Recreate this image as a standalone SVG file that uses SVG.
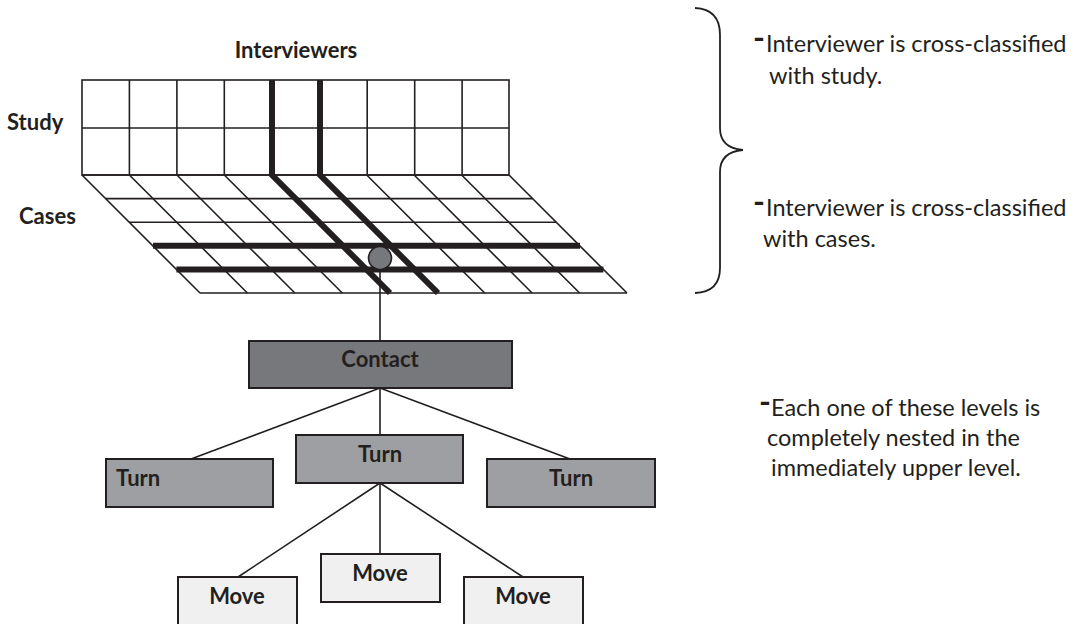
<svg xmlns="http://www.w3.org/2000/svg" width="1076" height="624" viewBox="0 0 1076 624">
<style>
.g{stroke:#231f20;stroke-width:1.6;fill:none}
.tk{stroke:#231f20;stroke-width:6;fill:none;stroke-linejoin:miter}
.c{stroke:#231f20;stroke-width:1.6;fill:none}
.box{stroke:#231f20;stroke-width:2}
.lbl{font-family:Lato,"Liberation Sans",sans-serif;font-weight:bold;font-size:22px;fill:#231f20}
.note{font-family:Lato,"Liberation Sans",sans-serif;font-size:23.5px;fill:#231f20}
.dash{font-weight:bold;font-size:32px}
</style>
<rect width="1076" height="624" fill="#ffffff"/>
<g id="labels">
<text class="lbl" x="296" y="58" text-anchor="middle" font-size="22.5">Interviewers</text>
<text class="lbl" x="7" y="130">Study</text>
<text class="lbl" x="19" y="224">Cases</text>
</g>
<g id="grid">
<rect class="g" x="82" y="80" width="427" height="95"/>
<line class="g" x1="82" y1="128" x2="509" y2="128"/>
<path class="g" d="M129.4,80V175M176.9,80V175M224.3,80V175M319.8,80V175M367.2,80V175M414.7,80V175M462.1,80V175"/>
<path class="g" d="M82,175H509M105.6,198.6H532.6M129.2,222.2H556.2M152.8,245.8H579.8M176.4,269.4H603.4M200,293H627"/>
<path class="g" d="M82,175L200,293M129.4,175L247.4,293M176.9,175L294.9,293M224.3,175L342.3,293M271.8,175L389.8,293M319.2,175L437.2,293M366.7,175L484.7,293M414.1,175L532.1,293M461.6,175L579.6,293M509,175L627,293"/>
<path class="tk" d="M272,80V175L390,293"/>
<path class="tk" d="M320,80V175L438,293"/>
<line class="tk" x1="153" y1="245.8" x2="580" y2="245.8"/>
<line class="tk" x1="176.4" y1="269.4" x2="603.4" y2="269.4"/>
</g>
<g id="connectors">
<line class="c" x1="380" y1="269" x2="380" y2="341"/>
<line class="c" x1="380" y1="388" x2="191" y2="459"/>
<line class="c" x1="380" y1="388" x2="380" y2="435"/>
<line class="c" x1="380" y1="388" x2="570" y2="459"/>
<line class="c" x1="380" y1="483" x2="238" y2="577"/>
<line class="c" x1="380" y1="483" x2="380" y2="554"/>
<line class="c" x1="380" y1="483" x2="523" y2="577"/>
</g>
<g id="case">
<circle cx="380" cy="258" r="11.5" fill="#77787b" stroke="#231f20" stroke-width="1.6"/>
</g>
<g id="contact">
<rect class="box" x="249" y="341" width="263" height="47" fill="#77787b"/>
<text class="lbl" x="380" y="367" text-anchor="middle">Contact</text>
</g>
<g id="turn-left">
<rect class="box" x="106" y="459" width="167" height="48" fill="#9d9fa2"/>
<text class="lbl" x="116" y="486">Turn</text>
</g>
<g id="turn-mid">
<rect class="box" x="296" y="435" width="167" height="48" fill="#9d9fa2"/>
<text class="lbl" x="380" y="462" text-anchor="middle">Turn</text>
</g>
<g id="turn-right">
<rect class="box" x="487" y="459" width="168" height="48" fill="#9d9fa2"/>
<text class="lbl" x="571" y="486" text-anchor="middle">Turn</text>
</g>
<g id="move-left">
<rect class="box" x="178" y="577" width="119" height="60" fill="#f0f0f0"/>
<text class="lbl" x="237" y="604" text-anchor="middle">Move</text>
</g>
<g id="move-mid">
<rect class="box" x="321" y="554" width="119" height="48" fill="#f0f0f0"/>
<text class="lbl" x="380" y="581" text-anchor="middle">Move</text>
</g>
<g id="move-right">
<rect class="box" x="464" y="577" width="119" height="60" fill="#f0f0f0"/>
<text class="lbl" x="523" y="604" text-anchor="middle">Move</text>
</g>
<g id="brace">
<path d="M695,8Q720,9 720,35V128Q720,148 743,150Q720,152 720,172V268Q720,292 695,293" fill="none" stroke="#231f20" stroke-width="1.8"/>
</g>
<g id="notes">
<text class="note" x="753" y="49"><tspan class="dash">-</tspan><tspan x="766" y="52">Interviewer is cross-classified</tspan></text>
<text class="note" x="769" y="84">with study.</text>
<text class="note" x="753" y="213"><tspan class="dash">-</tspan><tspan x="766" y="216">Interviewer is cross-classified</tspan></text>
<text class="note" x="763" y="247">with cases.</text>
<text class="note" x="759" y="413"><tspan class="dash">-</tspan><tspan x="771" y="416">Each one of these levels is</tspan></text>
<text class="note" x="767" y="446">completely nested in the</text>
<text class="note" x="771" y="476">immediately upper level.</text>
</g>
</svg>
